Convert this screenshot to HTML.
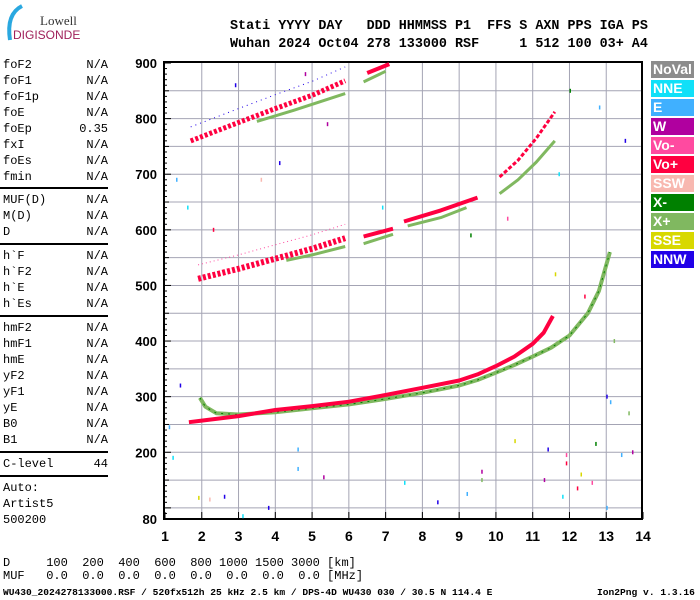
<!DOCTYPE html>
<html><head><meta charset="utf-8"><style>
body{margin:0;background:#fff;width:700px;height:600px;overflow:hidden;position:relative;font-family:"Liberation Mono",monospace}
.t{position:absolute;white-space:pre;color:#000}
.side{font-size:12px;line-height:16px;left:3px}
.val{position:absolute;left:70px;width:38px;text-align:right}
.hr{position:absolute;left:0;width:108px;height:0;border-top:2px solid #000}
.leg{position:absolute;left:651px;width:43px;height:17px;color:#fff;font:bold 14px "Liberation Sans",sans-serif;line-height:17px;padding-left:2px;box-sizing:border-box}
</style></head><body>
<div style="position:absolute;left:0;top:0;width:110px;height:45px">
<svg width="110" height="45"><path d="M22 6 Q6 14 10 40" stroke="#2aa8e0" stroke-width="4" fill="none"/></svg>
<div class="t" style="left:40px;top:13px;font:13px 'Liberation Serif',serif;color:#333">Lowell</div>
<div class="t" style="left:13px;top:28px;font:12px 'Liberation Sans',sans-serif;color:#a0205a">DIGISONDE</div>
</div>
<div class="t" style="left:230px;top:18px;font:bold 13.4px 'Liberation Mono',monospace;line-height:18px">Stati YYYY DAY   DDD HHMMSS P1  FFS S AXN PPS IGA PS
Wuhan 2024 Oct04 278 133000 RSF     1 512 100 03+ A4</div>

<div>
<div class="t side" style="top:57px">foF2
foF1
foF1p
foE
foEp
fxI
foEs
fmin</div>
<div class="t side val" style="top:57px">N/A
N/A
N/A
N/A
0.35
N/A
N/A
N/A</div>
<div class="hr" style="top:187px"></div>
<div class="t side" style="top:192px">MUF(D)
M(D)
D</div>
<div class="t side val" style="top:192px">N/A
N/A
N/A</div>
<div class="hr" style="top:243px"></div>
<div class="t side" style="top:248px">h`F
h`F2
h`E
h`Es</div>
<div class="t side val" style="top:248px">N/A
N/A
N/A
N/A</div>
<div class="hr" style="top:315px"></div>
<div class="t side" style="top:320px">hmF2
hmF1
hmE
yF2
yF1
yE
B0
B1</div>
<div class="t side val" style="top:320px">N/A
N/A
N/A
N/A
N/A
N/A
N/A
N/A</div>
<div class="hr" style="top:451px"></div>
<div class="t side" style="top:456px">C-level</div>
<div class="t side val" style="top:456px">44</div>
<div class="hr" style="top:475px"></div>
<div class="t side" style="top:480px">Auto:
Artist5
500200</div>
</div>

<div>
<div class="leg" style="top:61px;background:#8c8c8c">NoVal</div>
<div class="leg" style="top:80px;background:#10e0f8">NNE</div>
<div class="leg" style="top:99px;background:#40b0ff">E</div>
<div class="leg" style="top:118px;background:#b0009f">W</div>
<div class="leg" style="top:137px;background:#ff4aa0">Vo-</div>
<div class="leg" style="top:156px;background:#ff0040">Vo+</div>
<div class="leg" style="top:175px;background:#f8b8b0">SSW</div>
<div class="leg" style="top:194px;background:#008000">X-</div>
<div class="leg" style="top:213px;background:#80b860">X+</div>
<div class="leg" style="top:232px;background:#d8d800">SSE</div>
<div class="leg" style="top:251px;background:#2000e8">NNW</div>
</div>

<svg id="chart" width="700" height="600" style="position:absolute;left:0;top:0"></svg>

<div class="t" style="left:3px;top:557px;font-size:12px;line-height:13px">D     100  200  400  600  800 1000 1500 3000 [km]
MUF   0.0  0.0  0.0  0.0  0.0  0.0  0.0  0.0 [MHz]</div>
<div class="t" style="left:3px;top:587px;font:bold 9.6px 'Liberation Mono',monospace">WU430_2024278133000.RSF / 520fx512h 25 kHz 2.5 km / DPS-4D WU430 030 / 30.5 N 114.4 E</div>
<div class="t" style="left:597px;top:587px;font:bold 9.6px 'Liberation Mono',monospace">Ion2Png v. 1.3.16</div>

<script>
const xTicks=[1,2,3,4,5,6,7,8,9,10,11,12,13,14];
const yTickLabels=[80,200,300,400,500,600,700,800,900];
// O-trace (Vo+) 1st hop
const o1Freq=[1.65,2,3,4,5,6,7,8,9,9.5,10,10.5,11,11.3,11.55];
const o1H=[254,257,265,276,283,291,303,316,329,340,355,372,395,415,445];
// X-trace (X+) 1st hop
const x1Freq=[1.95,2.1,2.4,3,4,5,6,7,8,9,9.5,10,10.5,11,11.5,12,12.5,12.8,13.1];
const x1H=[298,282,270,268,272,279,286,296,307,320,330,343,357,372,388,410,450,490,560];
// 2nd hop O segments
const o2aFreq=[1.9,3,4,5,5.9];
const o2aH=[512,530,548,566,585];
const o2bFreq=[6.4,7.2];const o2bH=[588,602];
const o2cFreq=[7.5,8.5,9.5];const o2cH=[615,635,658];
const o2dFreq=[10.1,10.6,11.1,11.6];const o2dH=[695,725,765,812];
// 2nd hop X segments
const x2aFreq=[4.3,5,5.9];const x2aH=[545,555,570];
const x2bFreq=[6.4,7.2];const x2bH=[575,592];
const x2cFreq=[7.6,8.5,9.2];const x2cH=[607,622,640];
const x2dFreq=[10.1,10.6,11.1,11.6];const x2dH=[665,690,722,760];
// 3rd hop
const o3aFreq=[1.7,3,4,5,5.9];const o3aH=[760,793,818,842,868];
const o3bFreq=[6.5,7.1];const o3bH=[882,898];
const x3aFreq=[3.5,4.5,5.9];const x3aH=[795,815,845];
const x3bFreq=[6.4,7];const x3bH=[866,885];
// scattered echoes
const noiseF=[1.1,1.4,1.2,1.9,2.2,2.6,3.1,3.8,4.6,4.6,5.3,7.5,8.4,9.2,9.6,9.6,10.5,11.3,11.4,11.8,11.9,11.9,12.2,12.3,12.6,12.7,13.0,13.0,13.1,13.4,13.6,13.7,1.6,2.3,4.1,5.4,6.9,9.3,10.3,11.7,12.0,12.8,13.5,3.6,2.9,4.8,1.3,11.6,12.4,13.2];
const noiseH=[245,320,190,118,115,120,85,100,170,205,155,145,110,125,165,150,220,150,205,120,195,180,135,160,145,215,300,100,290,195,270,200,640,600,720,790,640,590,620,700,850,820,760,690,860,880,690,520,480,400];
const noiseC=["#40b0ff","#2000e8","#10e0f8","#d8d800","#f8b8b0","#2000e8","#10e0f8","#2000e8","#40b0ff","#40b0ff","#b0009f","#10e0f8","#2000e8","#40b0ff","#b0009f","#80b860","#d8d800","#b0009f","#2000e8","#10e0f8","#ff4aa0","#ff0040","#ff0040","#d8d800","#ff4aa0","#008000","#2000e8","#40b0ff","#40b0ff","#40b0ff","#80b860","#b0009f","#10e0f8","#ff0040","#2000e8","#b0009f","#10e0f8","#008000","#ff4aa0","#10e0f8","#008000","#40b0ff","#2000e8","#f8b8b0","#2000e8","#b0009f","#40b0ff","#d8d800","#ff0040","#80b860"];

const NS="http://www.w3.org/2000/svg";
const svg=document.getElementById('chart');
const X=f=>165+(f-1)*36.77;
const Y=h=>519-(h-80)*0.5561;
function mk(tag,attrs){const e=document.createElementNS(NS,tag);for(const k in attrs)e.setAttribute(k,attrs[k]);svg.appendChild(e);return e;}
// grid
for(let f=2;f<=13;f++){const l=mk('line',{x1:X(f),x2:X(f),y1:62,y2:519,stroke:'#a4a4b4','stroke-width':1});

}
for(let h=100;h<=850;h+=50){const l=mk('line',{x1:163,x2:642,y1:Y(h),y2:Y(h),stroke:'#a4a4b4','stroke-width':1});

}
// frame
const fr=mk('rect',{x:164,y:62,width:478,height:457,fill:'none',stroke:'#000','stroke-width':2});


// y ticks
for(let h=80;h<=900;h+=10){const len=(h%100===0)?8:(h%50===0?6:4);const t=mk('line',{x1:163-0,x2:163+len,y1:Y(h),y2:Y(h),stroke:'#000','stroke-width':1});

}
yTickLabels.forEach(h=>{const t=mk('text',{x:157,y:Y(h)+5,'text-anchor':'end','font-family':'Liberation Sans, sans-serif','font-weight':'bold','font-size':13});t.textContent=h;

});
xTicks.forEach(f=>{const tk=mk('line',{x1:X(f),x2:X(f),y1:519,y2:512,stroke:'#000','stroke-width':1});


const t=mk('text',{x:X(f),y:541,'text-anchor':'middle','font-family':'Liberation Sans, sans-serif','font-weight':'bold','font-size':14});t.textContent=f;

});
function trace(fs,hs,color,w,name,dash){const d=fs.map((f,i)=>(i?'L':'M')+X(f).toFixed(1)+' '+Y(hs[i]).toFixed(1)).join(' ');
const p=mk('path',{d:d,fill:'none',stroke:color,'stroke-width':w,'stroke-linejoin':'round'});
if(dash)p.setAttribute('stroke-dasharray',dash);

}
trace(x1Freq,x1H,'#80b860',4,'x-trace-hop1');
trace(x1Freq,x1H,'#008000',1,'x-trace-hop1-core','2 5');
trace(o1Freq,o1H,'#ff0040',4,'o-trace-hop1');
trace(x2aFreq,x2aH,'#80b860',3,'x-trace-hop2a');
trace(x2bFreq,x2bH,'#80b860',3,'x-trace-hop2b');
trace(x2cFreq,x2cH,'#80b860',3,'x-trace-hop2c');
trace(x2dFreq,x2dH,'#80b860',3,'x-trace-hop2d');
trace(o2aFreq,o2aH,'#ff0040',6,'o-trace-hop2a','3 2');
trace(o2aFreq,o2aH.map(h=>h+25),'#ff4aa0',1,'o-trace-hop2a-spread','1 3');
trace(o2bFreq,o2bH,'#ff0040',4,'o-trace-hop2b');
trace(o2cFreq,o2cH,'#ff0040',4,'o-trace-hop2c');
trace(o2dFreq,o2dH,'#ff0040',3,'o-trace-hop2d','4 2');
trace(x3aFreq,x3aH,'#80b860',3,'x-trace-hop3a');
trace(x3bFreq,x3bH,'#80b860',3,'x-trace-hop3b');
trace(o3aFreq,o3aH,'#ff0040',5,'o-trace-hop3a','3 2');
trace(o3aFreq,o3aH.map(h=>h+25),'#2000e8',1,'o-trace-hop3a-spread','1 4');
trace(o3bFreq,o3bH,'#ff0040',4,'o-trace-hop3b');
noiseF.forEach((f,i)=>{const r=mk('rect',{x:X(f),y:Y(noiseH[i])-2,width:1.5,height:4,fill:noiseC[i]});

});
</script>
</body></html>
